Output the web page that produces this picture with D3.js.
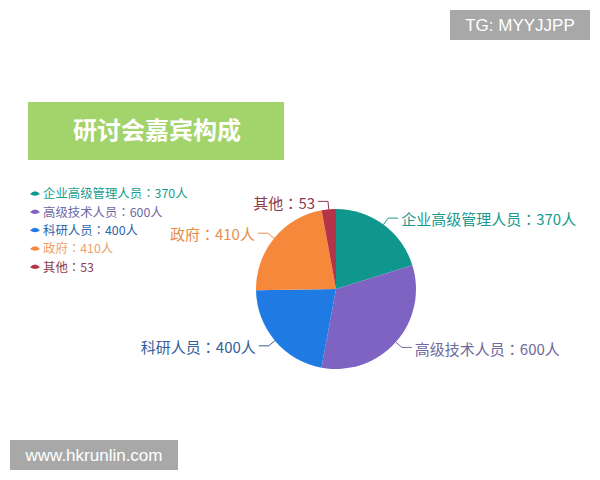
<!DOCTYPE html>
<html><head><meta charset="utf-8">
<script src="https://cdn.jsdelivr.net/npm/d3@7"></script>
<style>body{margin:0;background:#fff;}svg{display:block;}</style>
</head><body>
<svg id="c" width="600" height="480"></svg>
<script>
const categories = ["企业高级管理人员", "高级技术人员", "科研人员", "政府", "其他"];
const values = [370, 600, 400, 410, 53];
const units = ["人", "人", "人", "人", ""];
const sliceColors = ["#10978d", "#7e63c2", "#1f7ae3", "#f6883b", "#b53448"];
const labelColors = ["#1a9a8f", "#6d6a9e", "#34609c", "#e98d50", "#8e3a4b"];
const legendColors = ["#1a9d8f", "#6f68a8", "#2d66ae", "#f0a070", "#903a4a"];
const title = "研讨会嘉宾构成";

const svg = d3.select("#c");
const font = "'Noto Sans CJK SC', 'Noto Sans', sans-serif";
const colonFont = "'Noto Sans CJK JP', 'Noto Sans CJK SC', sans-serif";

function labelText(sel, d) {
  sel.append("tspan").text(d.name);
  sel.append("tspan").attr("font-family", colonFont).text("：");
  sel.append("tspan").text(`${d.value}${units[d.i]}`);
}

// Title box
svg.append("rect").attr("x", 28).attr("y", 102).attr("width", 256).attr("height", 58).attr("fill", "#a3d36b");
svg.append("text").attr("x", 157).attr("y", 139).attr("text-anchor", "middle")
  .attr("font-family", font).attr("font-weight", "bold").attr("font-size", 24)
  .attr("fill", "#fff").text(title);

// Watermarks
svg.append("rect").attr("x", 450).attr("y", 10).attr("width", 140).attr("height", 30).attr("fill", "#a8a8a8");
svg.append("text").attr("x", 520).attr("y", 31).attr("text-anchor", "middle")
  .attr("font-family", "'Liberation Sans', Arial, sans-serif").attr("font-size", 17).attr("fill", "#fff").text("TG: MYYJJPP");
svg.append("rect").attr("x", 10).attr("y", 440).attr("width", 168).attr("height", 30).attr("fill", "#a8a8a8");
svg.append("text").attr("x", 94).attr("y", 461).attr("text-anchor", "middle")
  .attr("font-family", "'Liberation Sans', Arial, sans-serif").attr("font-size", 17).attr("fill", "#fff").text("www.hkrunlin.com");

// Pie
const cx = 336, cy = 289, r = 80;
const data = categories.map((c, i) => ({name: c, value: values[i], i}));
const pie = d3.pie().value(d => d.value).sort(null);
const arcs = pie(data);
const arc = d3.arc().innerRadius(0).outerRadius(r);
const g = svg.append("g").attr("transform", `translate(${cx},${cy})`);
g.selectAll("path").data(arcs).join("path")
  .attr("d", arc).attr("fill", d => sliceColors[d.data.i]);

// Labels with lines
const len1 = 8, len2 = 10;
arcs.forEach(a => {
  const mid = (a.startAngle + a.endAngle) / 2;
  const sx = Math.sin(mid), sy = -Math.cos(mid);
  const p0 = [sx * r, sy * r];
  const p1 = [sx * (r + len1), sy * (r + len1)];
  const dir = sx >= 0 ? 1 : -1;
  const p2 = [p1[0] + dir * len2, p1[1]];
  const col = labelColors[a.data.i];
  g.append("polyline").attr("points", [p0, p1, p2].map(p => p.join(",")).join(" "))
    .attr("fill", "none").attr("stroke", col).attr("stroke-width", 1);
  const t = g.append("text").attr("x", p2[0] + dir * 3).attr("y", p2[1] + 2)
    .attr("dy", "0.35em").attr("text-anchor", dir > 0 ? "start" : "end")
    .attr("font-family", font).attr("font-size", 15).attr("fill", col);
  labelText(t, a.data);
});

// Legend
const lg = svg.append("g").attr("transform", "translate(30,194)");
data.forEach((d, k) => {
  const row = lg.append("g").attr("transform", `translate(0,${k * 18.3})`);
  row.append("path").attr("d", "M0,0 Q5,-5.5 10,0 Q5,3.5 0,0 Z").attr("fill", sliceColors[d.i]);
  const t = row.append("text").attr("x", 13).attr("y", 0).attr("dy", "0.35em")
    .attr("font-family", font).attr("font-size", 12.4).attr("fill", legendColors[d.i]);
  labelText(t, d);
});
</script>
</body></html>
